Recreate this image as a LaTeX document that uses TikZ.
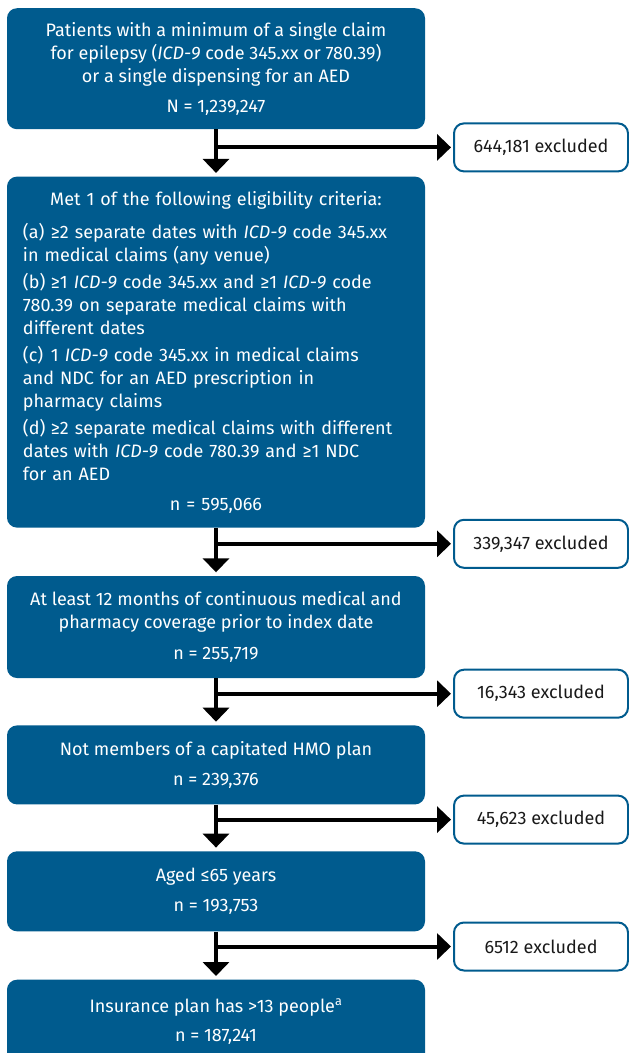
\documentclass[tikz,border=0pt]{standalone}
\usepackage{fontspec}
\setmainfont{Fira Sans}
\usetikzlibrary{arrows.meta, positioning}

\begin{document}
\begin{tikzpicture}[x = 1pt, y = -1pt,
    bluebox/.style = {rectangle, rounded corners = 10pt, fill = flowblue, text = white, align = center, minimum width = 418pt, anchor = north, font = \fontsize{18}{22.8}\selectfont},
    exclbox/.style = {rectangle, rounded corners = 10pt, draw = flowblue, line width = 2pt, fill = white, text = black!90, minimum width = 174pt, minimum height = 48pt, anchor = west, font = \fontsize{18}{22.8}\selectfont},
    flowline/.style = {draw, line width = 4pt, -{Triangle[length = 14pt, width = 26pt]}}]
        \useasboundingbox (0, 0) rectangle (629, 1053);
        \definecolor{flowblue}{RGB}{0,91,142}

        \node[bluebox, minimum height = 121pt, font = \fontsize{18}{23.3}\selectfont] at (216, 8) (b1) {Patients with a minimum of a single claim\\ for epilepsy (\textit{ICD-9} code 345.xx or 780.39)\\ or a single dispensing for an AED\\[6pt] N = 1,239,247};

        \node[bluebox, minimum height = 351pt, text width = 386pt, align = left] at ([yshift = -47pt] b1.south) (b2) {%
            \centering Met 1 of the following eligibility criteria:\par\vspace{11pt}
            \raggedright
            \hangindent = 28pt \hangafter = 1 \makebox[28pt][l]{(a)}≥2 separate dates with \textit{ICD-9} code 345.xx\\ in medical claims (any venue)\par\vspace{4.5pt}
            \hangindent = 28pt \hangafter = 1 \makebox[28pt][l]{(b)}≥1 \textit{ICD-9} code 345.xx and ≥1 \textit{ICD-9} code\\ 780.39 on separate medical claims with\\ different dates\par\vspace{4.5pt}
            \hangindent = 28pt \hangafter = 1 \makebox[28pt][l]{(c)}1 \textit{ICD-9} code 345.xx in medical claims\\ and NDC for an AED prescription in\\ pharmacy claims\par\vspace{4.5pt}
            \hangindent = 28pt \hangafter = 1 \makebox[28pt][l]{(d)}≥2 separate medical claims with different\\ dates with \textit{ICD-9} code 780.39 and ≥1 NDC\\ for an AED\par\vspace{7pt}
            \centering n = 595,066\par};

        \node[bluebox, minimum height = 102pt] at ([yshift = -48pt] b2.south) (b3) {At least 12 months of continuous medical and\\ pharmacy coverage prior to index date\\[8pt] n = 255,719};
        \node[bluebox, minimum height = 79pt] at ([yshift = -47pt] b3.south) (b4) {Not members of a capitated HMO plan\\[7pt] n = 239,376};
        \node[bluebox, minimum height = 80pt] at ([yshift = -46.5pt] b4.south) (b5) {Aged ≤65 years\\[7pt] n = 193,753};
        \node[bluebox, minimum height = 84pt] at ([yshift = -48pt] b5.south) (b6) {Insurance plan has >13 people\textsuperscript{a}\\[7pt] n = 187,241};

        % branch points and excluded boxes
        \coordinate (j1) at ([yshift = -18pt] b1.south);
        \coordinate (j2) at ([yshift = -16pt] b2.south);
        \coordinate (j3) at ([yshift = -15.5pt] b3.south);
        \coordinate (j4) at ([yshift = -15pt] b4.south);
        \coordinate (j5) at ([yshift = -15pt] b5.south);

        \node[exclbox] at ([xshift = 237pt] j1) (e1) {644,181 excluded};
        \node[exclbox] at ([xshift = 237pt] j2) (e2) {339,347 excluded};
        \node[exclbox] at ([xshift = 237pt] j3) (e3) {16,343 excluded};
        \node[exclbox] at ([xshift = 237pt] j4) (e4) {45,623 excluded};
        \node[exclbox] at ([xshift = 237pt] j5) (e5) {6512 excluded};

        \path[flowline, shorten > = 3.5pt] (b1.south) -- (b2.north);
        \path[flowline, shorten > = 3.5pt] (b2.south) -- (b3.north);
        \path[flowline, shorten > = 3.5pt] (b3.south) -- (b4.north);
        \path[flowline, shorten > = 3.5pt] (b4.south) -- (b5.north);
        \path[flowline, shorten > = 3.5pt] (b5.south) -- (b6.north);

        \path[flowline, shorten > = 2pt] ([xshift = -2pt] j1) -- (e1.west);
        \path[flowline, shorten > = 2pt] ([xshift = -2pt] j2) -- (e2.west);
        \path[flowline, shorten > = 2pt] ([xshift = -2pt] j3) -- (e3.west);
        \path[flowline, shorten > = 2pt] ([xshift = -2pt] j4) -- (e4.west);
        \path[flowline, shorten > = 2pt] ([xshift = -2pt] j5) -- (e5.west);
\end{tikzpicture}
\end{document}
